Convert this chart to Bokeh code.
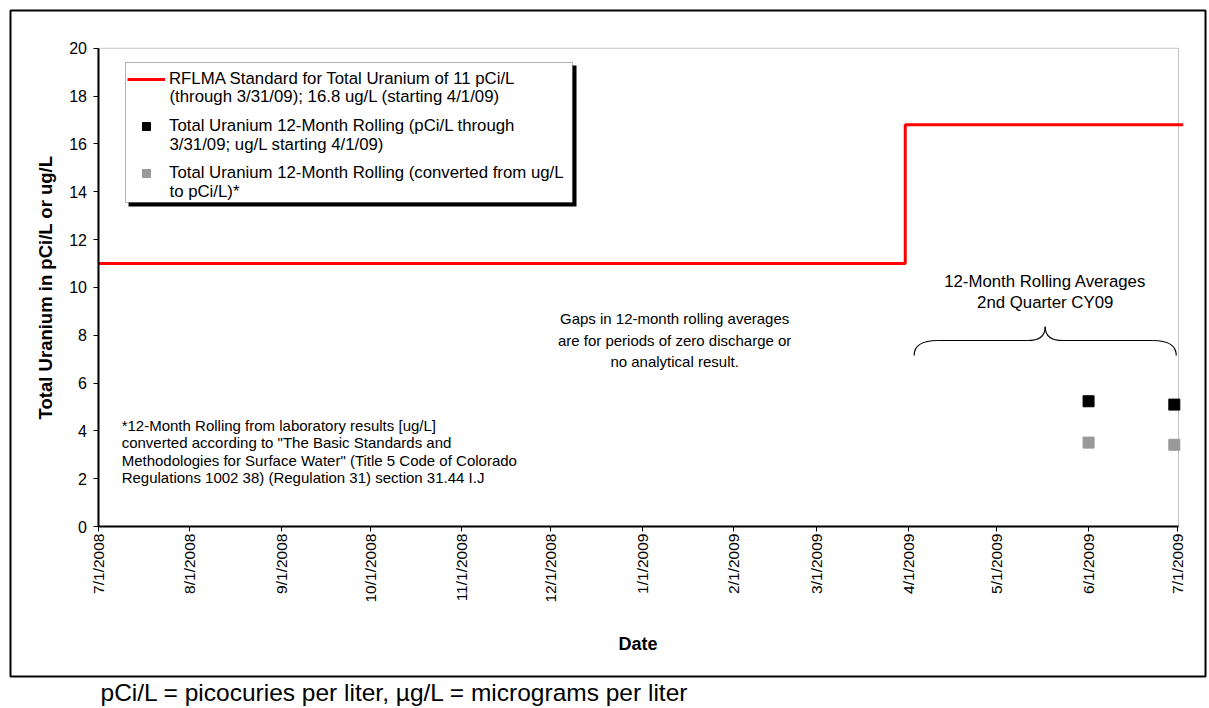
import math
from datetime import datetime, timedelta

from bokeh.plotting import figure
from bokeh.models import (Range1d, FixedTicker, CustomJSTickFormatter, Legend,
                          LegendItem, BoxAnnotation, Label, Title)
from bokeh.embed import file_html
from bokeh.resources import INLINE

FONT = "Liberation Sans"

# RFLMA standard: 11 pCi/L through 3/31/09, 16.8 ug/L starting 4/1/09
STD_DATES = ["2008-07-01", "2009-03-31", "2009-07-03"]
STD_VALUES = [11.0, 16.8, 16.8]

# 12-month rolling averages, 2nd quarter CY09
ROLL_DATES = ["2009-06-01", "2009-06-30"]
ROLL_REPORTED = [5.24, 5.10]    # pCi/L through 3/31/09; ug/L starting 4/1/09
ROLL_CONVERTED = [3.51, 3.42]   # converted from ug/L to pCi/L

X_TICK_LABELS = ["7/1/2008", "8/1/2008", "9/1/2008", "10/1/2008", "11/1/2008",
                 "12/1/2008", "1/1/2009", "2/1/2009", "3/1/2009", "4/1/2009",
                 "5/1/2009", "6/1/2009", "7/1/2009"]
Y_TICKS = [0, 2, 4, 6, 8, 10, 12, 14, 16, 18, 20]

LEGEND_LINES = [
    ("RFLMA Standard for Total Uranium of 11 pCi/L",
     "(through 3/31/09); 16.8 ug/L (starting 4/1/09)"),
    ("Total Uranium 12-Month Rolling (pCi/L through",
     "3/31/09; ug/L starting 4/1/09)"),
    ("Total Uranium 12-Month Rolling (converted from ug/L",
     "to pCi/L)*"),
]

GAP_NOTE = ["Gaps in 12-month rolling averages",
            "are for periods of zero discharge or",
            "no analytical result."]
QUARTER_NOTE = ["12-Month Rolling Averages", "2nd Quarter CY09"]
CONVERSION_NOTE = ["*12-Month Rolling from laboratory results [ug/L]",
                   "converted according to \"The Basic Standards and",
                   "Methodologies for Surface Water\" (Title 5 Code of Colorado",
                   "Regulations 1002 38) (Regulation 31) section 31.44 I.J"]
UNITS_NOTE = "pCi/L = picocuries per liter, \u00b5g/L = micrograms per liter"
X_TITLE = "Date"
Y_TITLE = "Total Uranium in pCi/L or ug/L"


def iso(s):
    return datetime.strptime(s, "%Y-%m-%d")


def mdy(s):
    return datetime.strptime(s, "%m/%d/%Y")


EPOCH = datetime(1970, 1, 1)


def ms(d):
    return (d - EPOCH).total_seconds() * 1000.0


std_x = [iso(d) for d in STD_DATES]
roll_x = [iso(d) for d in ROLL_DATES]
tick_ms = [ms(mdy(s)) for s in X_TICK_LABELS]

# Plot area (axes box) and the chart frame around it
area_x0 = mdy(X_TICK_LABELS[0])
area_x1 = mdy(X_TICK_LABELS[-1]) + timedelta(hours=10)
area_y0, area_y1 = Y_TICKS[0], Y_TICKS[-1]
x_pad_left, x_pad_right = timedelta(days=29.6), timedelta(days=9.13)
y_pad_bottom, y_pad_top = 6.27, 1.58

p = figure(width=1209, height=708, x_axis_type="datetime",
           x_range=Range1d(area_x0 - x_pad_left, area_x1 + x_pad_right),
           y_range=Range1d(area_y0 - y_pad_bottom, area_y1 + y_pad_top),
           output_backend="svg", toolbar_location=None,
           min_border_left=10, min_border_right=4,
           min_border_top=10, min_border_bottom=32,
           background_fill_color="white", border_fill_color="white")
p.grid.visible = False
p.outline_line_color = "black"
p.outline_line_width = 2

# thin border of the plot area (top and right show; axes cover the rest)
p.add_layout(BoxAnnotation(left=area_x0, right=area_x1, bottom=area_y0, top=area_y1,
                           fill_alpha=0, line_color="#404040", line_width=1,
                           level="underlay"))

xa = p.xaxis[0]
xa.fixed_location = area_y0
xa.bounds = (area_x0, area_x1)
xa.ticker = FixedTicker(ticks=tick_ms)
xa.formatter = CustomJSTickFormatter(code="""
    const d = new Date(tick);
    return (d.getUTCMonth() + 1) + '/' + d.getUTCDate() + '/' + d.getUTCFullYear();
""")
xa.major_label_orientation = math.pi / 2
xa.major_label_text_font = FONT
xa.major_label_text_font_size = "15.5px"
xa.major_label_text_color = "black"
xa.major_label_standoff = 2
xa.major_tick_out = 5
xa.major_tick_in = 0
xa.major_tick_line_color = "black"
xa.minor_tick_line_color = None
xa.axis_line_width = 2
xa.axis_line_color = "black"

ya = p.yaxis[0]
ya.fixed_location = ms(area_x0)
ya.bounds = (area_y0, area_y1)
ya.ticker = FixedTicker(ticks=Y_TICKS)
ya.major_label_text_font = FONT
ya.major_label_text_font_size = "16px"
ya.major_label_text_color = "black"
ya.major_label_standoff = 6
ya.major_tick_out = 5
ya.major_tick_in = 0
ya.major_tick_line_color = "black"
ya.minor_tick_line_color = None
ya.axis_line_width = 2
ya.axis_line_color = "black"

# Axis titles
p.add_layout(Label(x=45, y=287, x_units="canvas", y_units="canvas", text=Y_TITLE,
                   angle=math.pi / 2, text_align="center", text_baseline="middle",
                   text_font=FONT, text_font_size="18.5px", text_font_style="bold",
                   text_color="black"))
p.add_layout(Label(x=637.5, y=643, x_units="canvas", y_units="canvas", text=X_TITLE,
                   text_align="center", text_baseline="middle",
                   text_font=FONT, text_font_size="18px", text_font_style="bold",
                   text_color="black"))

std = p.step(x=std_x, y=STD_VALUES, mode="after", line_color="#FF0000", line_width=3)
rep = p.scatter(x=roll_x, y=ROLL_REPORTED, marker="square", size=11,
                fill_color="black", line_color="black")
conv = p.scatter(x=roll_x, y=ROLL_CONVERTED, marker="square", size=11,
                 fill_color="#999999", line_color="#999999")

# Curly brace over the 2nd-quarter averages
day = timedelta(days=1)
b_left, b_right = iso("2009-04-03"), datetime(2009, 6, 30, 16)
b_mid = b_left + (b_right - b_left) / 2
y_end, y_bar, y_tip = 7.15, 7.78, 8.36
r_end, r_tip = 8 * day, 6 * day
p.quadratic(x0=[b_left, b_mid - r_tip, b_mid, b_right - r_end],
            y0=[y_end, y_bar, y_tip, y_bar],
            x1=[b_left + r_end, b_mid, b_mid + r_tip, b_right],
            y1=[y_bar, y_tip, y_bar, y_end],
            cx=[b_left, b_mid, b_mid, b_right],
            cy=[y_bar, y_bar, y_bar, y_bar],
            line_color="black", line_width=1.2)
p.segment(x0=[b_left + r_end, b_mid + r_tip], y0=[y_bar, y_bar],
          x1=[b_mid - r_tip, b_right - r_end], y1=[y_bar, y_bar],
          line_color="black", line_width=1.2)

# Text notes inside the plot
gap_x = iso("2009-01-12")
for txt, yv in zip(GAP_NOTE, [8.70, 7.80, 6.92]):
    p.add_layout(Label(x=gap_x, y=yv, text=txt, text_align="center",
                       text_baseline="middle", text_font=FONT,
                       text_font_size="15px", text_color="black"))
for txt, yv in zip(QUARTER_NOTE, [10.24, 9.37]):
    p.add_layout(Label(x=b_mid, y=yv, text=txt, text_align="center",
                       text_baseline="middle", text_font=FONT,
                       text_font_size="16.8px", text_color="black"))
note_x = iso("2008-07-09")
for txt, yv in zip(CONVERSION_NOTE, [4.22, 3.50, 2.77, 2.05]):
    p.add_layout(Label(x=note_x, y=yv, text=txt, text_align="left",
                       text_baseline="middle", text_font=FONT,
                       text_font_size="15px", text_color="black"))

# Legend: box with drop shadow, entries, continuation lines
box = dict(left_units="canvas", right_units="canvas",
           top_units="canvas", bottom_units="canvas")
p.add_layout(BoxAnnotation(left=128, right=576, top=65, bottom=206,
                           fill_color="black", fill_alpha=1, line_color=None, **box))
p.add_layout(BoxAnnotation(left=125, right=572, top=62, bottom=202,
                           fill_color="white", fill_alpha=1,
                           line_color="black", line_width=1, **box))
legend = Legend(items=[LegendItem(label=LEGEND_LINES[0][0], renderers=[std]),
                       LegendItem(label=LEGEND_LINES[1][0], renderers=[rep]),
                       LegendItem(label=LEGEND_LINES[2][0], renderers=[conv])],
                location=(117, 493), orientation="vertical", margin=0,
                padding=2, spacing=27, glyph_width=38, glyph_height=20,
                label_height=20, label_standoff=4, label_text_font=FONT,
                label_text_font_size="16.8px", label_text_color="black",
                border_line_color=None, background_fill_alpha=0)
p.add_layout(legend)
for (first, second), yc in zip(LEGEND_LINES, [96, 144, 191]):
    p.add_layout(Label(x=169, y=yc, x_units="canvas", y_units="canvas", text=second,
                       text_align="left", text_baseline="middle", text_font=FONT,
                       text_font_size="16.8px", text_color="black"))

# Units footnote below the chart frame
p.add_layout(Title(text=UNITS_NOTE, align="left", offset=90, standoff=0,
                   text_font=FONT, text_font_size="24.5px", text_font_style="normal",
                   text_color="black"), "below")

open("out.html", "w").write(file_html(p, INLINE))
